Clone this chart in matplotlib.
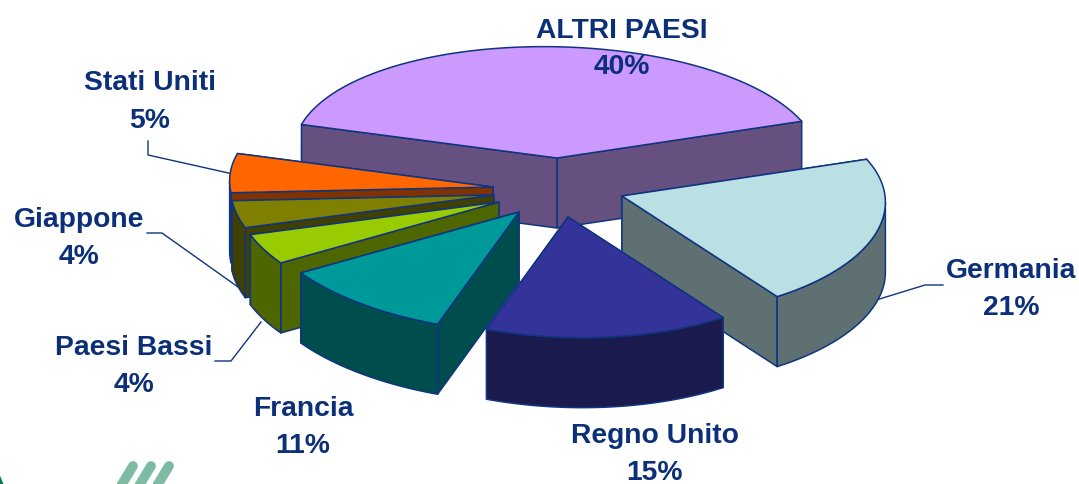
import numpy as np
import matplotlib
matplotlib.use("Agg")
import matplotlib.pyplot as plt
from matplotlib.patches import Polygon

# --- data (clockwise from the back-left of the big slice)
categories = ["ALTRI PAESI", "Germania", "Regno Unito", "Francia", "Paesi Bassi", "Giappone", "Stati Uniti"]
shares = [40.0, 21.0, 15.0, 10.5, 4.1, 3.7, 5.5]
shown_percent = [40, 21, 15, 11, 4, 4, 5]

# --- styles
top_colors = ["#CC99FF", "#BBE0E3", "#333399", "#009999", "#99CC00", "#808000", "#FF6600"]
wall_colors = ["#66507F", "#5E7072", "#1A1A4D", "#004D4D", "#4D6600", "#404000", "#803300"]
edge_color = "#0F3480"
text_color = "#0B2F78"

# --- layout in figure pixels
apexes = [(557, 159), (622, 197), (568, 218), (519, 213), (499, 203), (494, 196), (493, 188)]
label_pos = [(622, 49), (1011, 290), (655, 455), (303, 428), (134, 367), (79, 239), (150, 102)]
line_gap = 37
leaders = {
    "Germania": [(873, 302), (925, 286), (943, 286)],
    "Paesi Bassi": [(215, 362), (231, 362), (261, 323)],
    "Giappone": [(147, 234), (162, 234), (238, 288)],
    "Stati Uniti": [(148, 142), (148, 156), (233, 175)],
}
draw_order = [0, 1, 6, 5, 4, 3, 2]
semi_x, semi_y, depth = 263.0, 116.0, 70.0
shear, persp = 0.12, 0.04
start_deg = -73.0

fig = plt.figure(figsize=(10.79, 4.85), dpi=100)
ax = fig.add_axes([0, 0, 1, 1])
ax.set_xlim(0, 1079)
ax.set_ylim(485, 0)
ax.axis("off")


def rim(apex, theta):
    """Project rim points; theta in radians clockwise from the back of the pie."""
    s, c = np.sin(theta), np.cos(theta)
    dy = -semi_y * c * (1 - persp * c)
    dx = semi_x * s + shear * dy
    return np.column_stack([apex[0] + dx, apex[1] + dy])


fractions = np.array(shares) / np.sum(shares) * 360.0
ends = start_deg + np.cumsum(fractions)
starts = ends - fractions

for i in draw_order:
    ap = np.array(apexes[i], dtype=float)
    th = np.radians(np.linspace(starts[i], ends[i], 160))
    arc = rim(ap, th)
    down = np.array([0, depth])
    walls = []
    # straight walls from the apex to each end of the arc
    for p in (arc[0], arc[-1]):
        walls.append(np.array([ap, p, p + down, ap + down]))
    walls.sort(key=lambda w: w[:, 1].mean())
    # outer curved wall: only the stretch of the rim that faces the viewer
    going_left = np.diff(arc[:, 0]) < 0
    if going_left.any():
        idx = np.where(going_left)[0]
        front = arc[idx[0]:idx[-1] + 2]
        walls.append(np.vstack([front, (front + down)[::-1]]))
    for w in walls:
        ax.add_patch(Polygon(w, closed=True, facecolor=wall_colors[i], edgecolor=edge_color,
                             linewidth=1.1, joinstyle="round", zorder=2 + draw_order.index(i)))
    ax.add_patch(Polygon(np.vstack([ap, arc]), closed=True, facecolor=top_colors[i],
                         edgecolor=edge_color, linewidth=1.1, joinstyle="round",
                         zorder=2.5 + draw_order.index(i)))

for name, pts in leaders.items():
    xs, ys = zip(*pts)
    ax.plot(xs, ys, color=edge_color, lw=1.0, zorder=1)

for name, pct, (x, y) in zip(categories, shown_percent, label_pos):
    for line, yy in ((name, y - line_gap / 2), (f"{pct}%", y + line_gap / 2)):
        ax.text(x, yy, line, ha="center", va="center", color=text_color,
                family="Liberation Sans", fontweight="bold", fontsize=20.3, zorder=20)

# fragment of the logo cropped at the bottom edge
for x0 in (133, 151, 169):
    ax.plot([x0, x0 - 14], [467, 490], color="#7DBBA3", lw=7, solid_capstyle="round", zorder=1)
ax.plot([-3, 2], [474, 486], color="#0E7A55", lw=2.5, zorder=1)

fig.savefig("out.png", dpi=100, facecolor="white")
